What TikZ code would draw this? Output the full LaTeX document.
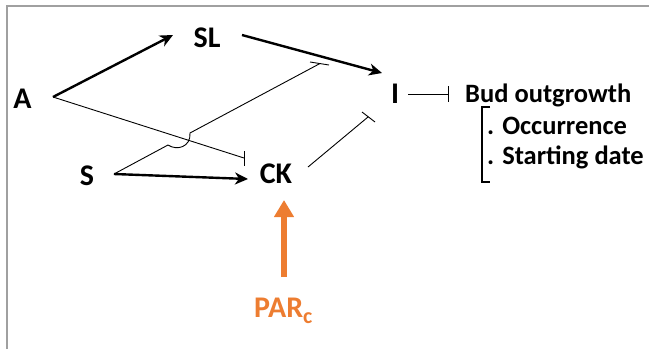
\documentclass[tikz,border=0pt]{standalone}
\usepackage{fontspec}
\setmainfont{Carlito}
\usetikzlibrary{arrows.meta}
\definecolor{framegray}{HTML}{A0A0A0}
\definecolor{parorange}{HTML}{ED7D31}
\begin{document}
\begin{tikzpicture}[x=1pt,y=-1pt,
  lbl/.style={font=\bfseries\fontsize{30}{32}\selectfont, inner sep=0pt, anchor=base},
  txt/.style={font=\bfseries\fontsize{26.5}{28}\selectfont, inner sep=0pt, anchor=base west},
  act/.style={line width=2.4pt, -{Stealth[length=13pt,width=12pt,inset=4pt]}},
  inh/.style={line width=0.9pt},
  parrow/.style={parorange, line width=5.5pt, -{Triangle[length=17pt,width=19pt]}}]
\useasboundingbox (0,0) rectangle (649,349);
\draw[framegray, line width=2pt] (7,349) -- (7,6) -- (649,6);
% nodes
\node[lbl] (A) at (22.5,108) {A};
\node[lbl] (SL) at (207,47) {SL};
\node[lbl] (I) at (395,103) {I};
\node[lbl] (S) at (87,185) {S};
\node[lbl] (CK) at (276,183) {CK};
\node[lbl, anchor=base west, text=parorange] (PAR) at (254,317) {PAR\raisebox{-6pt}{\fontsize{22}{22}\selectfont c}};
\node[txt] (bud) at (465,102) {Bud outgrowth};
\node[txt] (occ) at (487,134) {. Occurrence};
\node[txt] (sta) at (487,164) {. Starting date};
% connector endpoints
\coordinate (aOut) at (53,97);
\coordinate (slIn) at (173,35);
\coordinate (slOut) at (242,35);
\coordinate (iInA) at (382,73);
\coordinate (ckInA) at (244,158);
\coordinate (ckBarT) at (244,151);
\coordinate (ckBarB) at (244,166);
\coordinate (sOut) at (114,174);
\coordinate (ckInS) at (248,179);
\coordinate (hop1) at (168,145);
\coordinate (hop2) at (190,133);
\coordinate (iInS) at (320,63.5);
\coordinate (barSIa) at (310,62);
\coordinate (barSIb) at (329,65);
\coordinate (ckOut) at (308,167);
\coordinate (iInCK) at (368,117);
\coordinate (barCKa) at (362,112);
\coordinate (barCKb) at (375,122);
\coordinate (iOut) at (408,94);
\coordinate (budIn) at (448,94);
\coordinate (budBarT) at (448,86);
\coordinate (budBarB) at (448,102);
\coordinate (parOut) at (284,277);
\coordinate (ckInP) at (284,200);
% activations
\draw[act] (aOut) -- (slIn);
\draw[act] (slOut) -- (iInA);
\draw[act] (sOut) -- (ckInS);
\draw[parrow] (parOut) -- (ckInP);
% inhibitions
\draw[inh] (aOut) -- (ckInA);
\draw[inh] (ckBarT) -- (ckBarB);
\draw[inh] (sOut) -- (hop1) .. controls (177,151) and (191,147) .. (hop2) -- (iInS);
\draw[inh] (barSIa) -- (barSIb);
\draw[inh] (ckOut) -- (iInCK);
\draw[inh] (barCKa) -- (barCKb);
\draw[inh] (iOut) -- (budIn);
\draw[inh] (budBarT) -- (budBarB);
% bracket
\draw[line width=1.2pt] (490,107) -- (482,107) -- (482,182) -- (490,182);
\end{tikzpicture}
\end{document}
